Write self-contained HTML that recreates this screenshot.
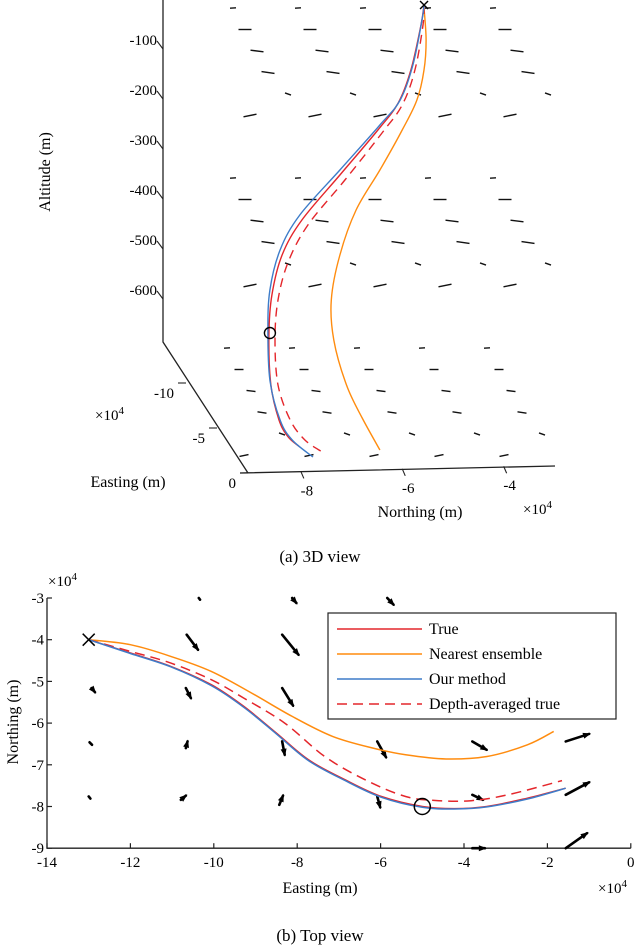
<!DOCTYPE html>
<html><head><meta charset="utf-8"><style>
html,body{margin:0;padding:0;background:#fff;}
svg{display:block;font-family:"Liberation Serif",serif;}
</style></head><body>
<svg id="fig" width="640" height="948" viewBox="0 0 640 948" xmlns="http://www.w3.org/2000/svg">
<g id="topg"></g>
<text x="320" y="562" font-size="17" text-anchor="middle">(a)  3D view</text>
<g id="bot"></g>
<text x="320" y="941" font-size="17" text-anchor="middle">(b) Top view</text>
</svg>
<script>
// ===== Top view data (Easting x1e4, Northing x1e4) =====
const trueE=[-13,-12,-11.03,-10.06,-9.28,-8.5,-7.73,-6.85,-5.98,-5.0,-4.23,-3.45,-2.48,-1.56];
const trueN=[-4.0,-4.32,-4.64,-5.08,-5.6,-6.24,-6.88,-7.36,-7.76,-8.0,-8.05,-8.0,-7.8,-7.56];
const oursE=[-13,-12,-11.03,-10.06,-9.28,-8.5,-7.73,-6.85,-5.98,-5.0,-4.23,-3.45,-2.48,-1.56];
const oursN=[-4.0,-4.33,-4.65,-5.1,-5.62,-6.26,-6.9,-7.38,-7.78,-8.02,-8.06,-8.01,-7.82,-7.56];
const depE=[-13,-12,-11.03,-10.06,-9.28,-8.3,-7.34,-6.37,-5.4,-4.6,-3.83,-2.95,-1.65];
const depN=[-4.0,-4.28,-4.56,-4.96,-5.4,-6.0,-6.8,-7.36,-7.76,-7.86,-7.86,-7.72,-7.38];
const nearE=[-13,-12,-11.03,-10.06,-9.09,-8.12,-7.15,-6.18,-5.4,-4.43,-3.45,-2.48,-1.85];
const nearN=[-4.0,-4.12,-4.4,-4.76,-5.28,-5.84,-6.32,-6.6,-6.76,-6.86,-6.8,-6.52,-6.2];
const xTicks=[-14,-12,-10,-8,-6,-4,-2,0];
const yTicks=[-3,-4,-5,-6,-7,-8,-9];
const arrE0=[-10.36,-8.12,-5.84,-10.65,-8.36,-12.93,-10.67,-8.36,-12.98,-10.67,-8.36,-6.08,-3.8,-1.56,-13.0,-10.79,-8.43,-6.08,-3.8,-1.56,-3.8,-1.56];
const arrN0=[-3.0,-3.0,-3.0,-3.88,-3.88,-5.16,-5.16,-5.16,-6.46,-6.6,-6.44,-6.44,-6.44,-6.44,-7.76,-7.84,-7.96,-7.76,-7.72,-7.72,-9.0,-9.0];
const arrE1=[-10.33,-8.02,-5.69,-10.38,-7.97,-12.85,-10.55,-8.1,-12.92,-10.63,-8.3,-5.87,-3.46,-1.0,-12.96,-10.67,-8.34,-6.01,-3.55,-1.0,-3.5,-1.05];
const arrN1=[-3.04,-3.12,-3.16,-4.24,-4.36,-5.26,-5.4,-5.58,-6.52,-6.44,-6.76,-6.82,-6.64,-6.26,-7.81,-7.74,-7.74,-8.02,-7.84,-7.42,-9.0,-8.64];
const startPt=[-13,-4]; const endPt=[-5,-8];

// ===== 3D view data (projected northing x1e4, altitude m) =====
const blue3N=[-5.57,-5.61,-5.79,-6.04,-6.44,-7.23,-8.02,-8.41,-8.61,-8.65,-8.61,-8.41,-8.17,-7.76];
const blue3A=[-16,-46,-136,-206,-256,-346,-436,-506,-586,-666,-766,-846,-886,-920];
const red3N=[-5.57,-5.63,-5.83,-6.08,-6.48,-7.23,-7.98,-8.37,-8.57,-8.63,-8.59,-8.43,-8.25,-8.02];
const red3A=[-16,-56,-146,-212,-266,-356,-446,-516,-596,-676,-776,-846,-880,-900];
const dash3N=[-5.57,-5.59,-5.75,-6.0,-6.4,-7.13,-7.86,-8.25,-8.45,-8.51,-8.45,-8.21,-7.92,-7.58];
const dash3A=[-16,-56,-146,-216,-272,-366,-456,-530,-606,-686,-776,-846,-886,-910];
const or3N=[-5.57,-5.53,-5.57,-5.71,-6.0,-6.44,-6.91,-7.23,-7.4,-7.35,-7.1,-6.79,-6.44];
const or3A=[-22,-86,-146,-206,-266,-346,-426,-516,-606,-686,-776,-842,-906];
const altTicks=[-100,-200,-300,-400,-500,-600];
const northTicks=[-8,-6,-4];
const eastTicks=[-10,-5,0];

const NS="http://www.w3.org/2000/svg";
function mk(parent,tag,attrs){const e=document.createElementNS(NS,tag);for(const k in attrs)e.setAttribute(k,attrs[k]);parent.appendChild(e);return e;}
const RED="#e4262b",ORG="#ff8c0f",BLU="#3d7cc9";

function pathD(xs,ys,fx,fy){
 const P=xs.map((v,i)=>[fx(v),fy(ys[i])]);
 let d='M'+P[0][0].toFixed(1)+','+P[0][1].toFixed(1);
 for(let i=0;i<P.length-1;i++){
  const p0=P[Math.max(0,i-1)],p1=P[i],p2=P[i+1],p3=P[Math.min(P.length-1,i+2)];
  const c1=[p1[0]+(p2[0]-p0[0])/6,p1[1]+(p2[1]-p0[1])/6];
  const c2=[p2[0]-(p3[0]-p1[0])/6,p2[1]-(p3[1]-p1[1])/6];
  d+=`C${c1[0].toFixed(1)},${c1[1].toFixed(1)} ${c2[0].toFixed(1)},${c2[1].toFixed(1)} ${p2[0].toFixed(1)},${p2[1].toFixed(1)}`;
 }
 return d;
}

// ---------- bottom chart ----------
const bot=document.getElementById('bot');
const X=e=>47+(e+14)*41.7;
const Y=n=>598+(-3-n)*41.7;
let ax=mk(bot,'path',{d:`M${X(-14)},${Y(-3)}L${X(-14)},${Y(-9)}L${X(0)},${Y(-9)}`,stroke:'#222','stroke-width':1.3,fill:'none'});

xTicks.forEach(t=>{
 const l=mk(bot,'line',{x1:X(t),x2:X(t),y1:Y(-9),y2:Y(-9)-5,stroke:'#222','stroke-width':1.2});
 
 const tx=mk(bot,'text',{x:X(t),y:Y(-9)+19,'font-size':15,'text-anchor':'middle'});tx.textContent=t;
 
});
yTicks.forEach(t=>{
 const l=mk(bot,'line',{x1:X(-14),x2:X(-14)+5,y1:Y(t),y2:Y(t),stroke:'#222','stroke-width':1.2});
 
 const tx=mk(bot,'text',{x:X(-14)-3,y:Y(t)+5,'font-size':15,'text-anchor':'end'});tx.textContent=t;
 
});
let t1=mk(bot,'text',{x:320,y:893,'font-size':16,'text-anchor':'middle'});t1.textContent='Easting (m)';

let t2=mk(bot,'text',{x:598,y:893,'font-size':15});t2.innerHTML='×10<tspan dy="-6" font-size="11">4</tspan>';

let t3=mk(bot,'text',{x:48,y:586,'font-size':15});t3.innerHTML='×10<tspan dy="-6" font-size="11">4</tspan>';

let t4=mk(bot,'text',{x:0,y:0,'font-size':16,'text-anchor':'middle',transform:'translate(18,722) rotate(-90)'});t4.textContent='Northing (m)';

arrE0.forEach((e,i)=>{
 const x0=X(e),y0=Y(arrN0[i]),x1=X(arrE1[i]),y1=Y(arrN1[i]);
 const g=mk(bot,'g',{});
 
 
 mk(g,'line',{x1:x0,y1:y0,x2:x1,y2:y1,stroke:'#000','stroke-width':2.6,'stroke-linecap':'round'});
 const dx=x1-x0,dy=y1-y0,L=Math.hypot(dx,dy)||1,ux=dx/L,uy=dy/L;
 if(L>4){mk(g,'path',{d:`M${x1+ux*2},${y1+uy*2}L${x1-ux*6-uy*3},${y1-uy*6+ux*3}L${x1-ux*6+uy*3},${y1-uy*6-ux*3}Z`,fill:'#000'});}
});
let p;
p=mk(bot,'path',{d:pathD(nearE,nearN,X,Y),stroke:ORG,'stroke-width':1.5,fill:'none'});
p=mk(bot,'path',{d:pathD(depE,depN,X,Y),stroke:RED,'stroke-width':1.5,fill:'none','stroke-dasharray':'10,6'});
p=mk(bot,'path',{d:pathD(trueE,trueN,X,Y),stroke:RED,'stroke-width':1.5,fill:'none'});
p=mk(bot,'path',{d:pathD(oursE,oursN,X,Y),stroke:BLU,'stroke-width':1.5,fill:'none'});
p=mk(bot,'path',{d:`M${X(startPt[0])-6},${Y(startPt[1])-6}l12,12M${X(startPt[0])+6},${Y(startPt[1])-6}l-12,12`,stroke:'#000','stroke-width':1.5});

p=mk(bot,'circle',{cx:X(endPt[0]),cy:Y(endPt[1]),r:8,stroke:'#000','stroke-width':1.5,fill:'none'});

const lg=mk(bot,'g',{});
mk(lg,'rect',{x:328,y:613,width:288,height:106,fill:'#fff',stroke:'#222','stroke-width':1.2});
const legItems=[['True',RED,''],['Nearest ensemble',ORG,''],['Our method',BLU,''],['Depth-averaged true',RED,'10,6']];
legItems.forEach((it,i)=>{
 const y=629+i*25;
 const g=mk(lg,'g',{});
 
 
 const a={x1:337,x2:422,y1:y,y2:y,stroke:it[1],'stroke-width':1.5};if(it[2])a['stroke-dasharray']=it[2];
 mk(g,'line',a);
 const t=mk(g,'text',{x:429,y:y+5,'font-size':16});t.textContent=it[0];
});

// ---------- top 3D chart ----------
const topG=document.getElementById('topg');
const X3=n=>240+(n+9.2)*50.7;
const Y3=a=>-3-a*0.5;
p=mk(topG,'path',{d:'M163,0L163,342L248,473M240,473L555,466',stroke:'#222','stroke-width':1.3,fill:'none'});

altTicks.forEach(t=>{
 const y=Y3(t);
 const l=mk(topG,'line',{x1:157,y1:y-6,x2:163,y2:y+2,stroke:'#222','stroke-width':1.1});
 
 const tx=mk(topG,'text',{x:157,y:y-2,'font-size':15,'text-anchor':'end'});tx.textContent=t;
 
});
northTicks.forEach(t=>{
 const x=X3(t),y=473-(t+9.2)*1.3;
 const l=mk(topG,'line',{x1:x,y1:y,x2:x+3,y2:y+7,stroke:'#222','stroke-width':1.1});
 
 const tx=mk(topG,'text',{x:x+6,y:y+24,'font-size':15,'text-anchor':'middle'});tx.textContent=t;
 
});
eastTicks.forEach(t=>{
 const x=248+t*6.2,y=473+t*9;
 const l=mk(topG,'line',{x1:x-8,y1:y,x2:x,y2:y,stroke:'#222','stroke-width':1.1});
 
 const tx=mk(topG,'text',{x:x-12,y:y+15,'font-size':15,'text-anchor':'end'});tx.textContent=t;
 
});
let a1=mk(topG,'text',{x:0,y:0,'font-size':16,'text-anchor':'middle',transform:'translate(50,172) rotate(-90)'});a1.textContent='Altitude (m)';

let a2=mk(topG,'text',{x:128,y:487,'font-size':16,'text-anchor':'middle'});a2.textContent='Easting (m)';

let a3=mk(topG,'text',{x:95,y:420,'font-size':15});a3.innerHTML='×10<tspan dy="-6" font-size="11">4</tspan>';

let a4=mk(topG,'text',{x:420,y:517,'font-size':16,'text-anchor':'middle'});a4.textContent='Northing (m)';

let a5=mk(topG,'text',{x:523,y:514,'font-size':15});a5.innerHTML='×10<tspan dy="-6" font-size="11">4</tspan>';

const blockY=[8,178,348];
const rowStartX=[233,245,257,268,288,250];
const rowSlope=[0.05,0.0,-0.12,-0.15,-0.35,0.2];
blockY.forEach(by=>{
 for(let r=0;r<6;r++){
  const y=by+r*21.5;
  for(let c=0;c<5;c++){
   const x=rowStartX[r]+c*65+(by>300?-6:0);
   const len=(r===0||r===4)?6:(by>300?9:13);
   const s=mk(topG,'line',{x1:x-len/2,y1:y+rowSlope[r]*len/2,x2:x+len/2,y2:y-rowSlope[r]*len/2,stroke:'#111','stroke-width':1.4});
   
   
  }
 }
});
p=mk(topG,'path',{d:pathD(or3N,or3A,X3,Y3),stroke:ORG,'stroke-width':1.4,fill:'none'});
p=mk(topG,'path',{d:pathD(dash3N,dash3A,X3,Y3),stroke:RED,'stroke-width':1.4,fill:'none','stroke-dasharray':'9,6'});
p=mk(topG,'path',{d:pathD(red3N,red3A,X3,Y3),stroke:RED,'stroke-width':1.4,fill:'none'});
p=mk(topG,'path',{d:pathD(blue3N,blue3A,X3,Y3),stroke:BLU,'stroke-width':1.4,fill:'none'});
p=mk(topG,'path',{d:`M${X3(-5.57)-4},${Y3(-16)-4}l8,8M${X3(-5.57)+4},${Y3(-16)-4}l-8,8`,stroke:'#000','stroke-width':1.4});

p=mk(topG,'circle',{cx:X3(-8.61),cy:Y3(-672),r:5.5,stroke:'#000','stroke-width':1.4,fill:'none'});

</script>
</body></html>
